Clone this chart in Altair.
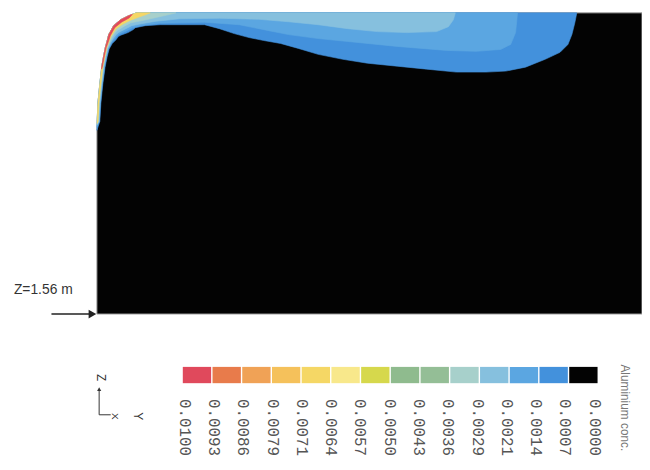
import altair as alt
import pandas as pd

# ---- geometry (x: distance from left wall, z: height above Z=1.56 m level)
DOMAIN_RIGHT = 552
DOMAIN_TOP = 305

# rounded upper-left wall of the domain
wall_x = [0, 0.3, 1, 3, 5, 7, 8.6, 10.5, 12, 14.8, 17, 24, 32, 40]
wall_z = [186, 195, 213, 233, 251, 262, 270, 277, 283, 288, 292, 298, 302, 305]

# contour lines (region with concentration above each level lies between the wall and the line)
c0007_x = [0, 3, 4, 6, 8.3, 10.4, 12.4, 15.6, 19.2, 21.8, 24.2, 31.5, 36.5, 39, 49, 64, 109, 124, 139, 154,
           169, 186, 204, 224, 249, 274, 304, 334, 364, 394, 414, 434, 454, 469, 477, 481, 484, 486]
c0007_z = [186, 195, 213, 232.7, 250, 260.5, 268.3, 274, 277.6, 281, 282.4, 285, 287.8, 290, 292, 293, 293, 289,
           284, 280, 277, 274, 269, 263, 258, 254, 251, 248, 245, 245, 246, 250, 258, 265, 273, 283, 295, 305]

c0014_x = [0, 2.5, 3.5, 5.5, 7.8, 9.9, 11.8, 14.8, 18, 20.8, 23.2, 30.4, 35.8, 45, 64, 109, 144, 174, 194, 224,
           254, 304, 354, 384, 409, 419, 424, 426]
c0014_z = [189, 195, 213, 232.8, 250.1, 260.7, 268.6, 274.5, 278.5, 282, 283.8, 286.9, 289.8, 292.2, 294.5, 295.5,
           293, 287, 283, 279, 276, 271, 267, 266, 268, 273, 285, 305]

c0021_x = [0, 2.1, 3, 5, 7.2, 9.3, 11.2, 14.1, 16.8, 19.7, 22.1, 29.3, 35.2, 45, 60, 84, 124, 164, 194, 224, 254,
           284, 314, 344, 356, 361, 363]
c0021_z = [191, 195, 213, 232.8, 250.3, 261, 268.8, 274.9, 279.4, 283.1, 285.2, 288.9, 292, 294, 296.5, 299, 299.5,
           298.5, 296, 293, 289, 286, 285, 286, 291, 298, 305]

c0029_x = [0.1, 1.6, 2.4, 4.5, 6.6, 8.8, 10.6, 13.2, 15.6, 18.3, 20.6, 27.8, 34.3, 45, 60, 72, 80]
c0029_z = [192, 195, 213, 232.9, 250.5, 261.2, 269.1, 275.4, 280.3, 284.5, 287.2, 291.5, 294.9, 297, 300.3, 303, 305]

c0064_x = [0.2, 1.2, 2, 4, 6.1, 8.3, 10, 12.4, 14.4, 17.3, 19.4, 26.5, 33.5, 42, 50, 54]
c0064_z = [193, 195, 213, 232.9, 250.6, 261.4, 269.4, 275.9, 281.2, 285.6, 288.8, 293.7, 297.3, 300.5, 303.3, 305]

c0093_x = [4.7, 5.6, 7.7, 9.4, 11.8, 13.6, 16.2, 18.3, 25.3, 32.7, 36]
c0093_z = [248, 250.8, 261.7, 269.6, 276.3, 281.8, 286.6, 290.2, 295.8, 299.8, 303.5]

# ---- colour bar
band_colors = ["#e0495c", "#e87b4b", "#f0a256", "#f5c15b", "#f5d765", "#f8e88b", "#d6d84c",
               "#8fbb8e", "#94be96", "#a7d0cb", "#86c0de", "#5ba6e1", "#4391dc", "#030303"]
tick_labels = ["0.0100", "0.0093", "0.0086", "0.0079", "0.0071", "0.0064", "0.0057", "0.0050",
               "0.0043", "0.0036", "0.0029", "0.0021", "0.0014", "0.0007", "0.0000"]

XS = alt.Scale(domain=[-90, 552], nice=False, zero=False)
YS = alt.Scale(domain=[-155, 307], nice=False, zero=False)


def enc(ch):
    return ch.encode(x=alt.X("x:Q", scale=XS, axis=None),
                     y=alt.Y("z:Q", scale=YS, axis=None),
                     order=alt.Order("i:Q"))


def region(cx, cz):
    z0, xe = cz[0], cx[-1]
    pts = [(wx, wz) for wx, wz in zip(wall_x, wall_z) if wz > z0 and wx < xe]
    pts += list(zip(cx[::-1], cz[::-1]))
    return pd.DataFrame({"x": [p[0] for p in pts], "z": [p[1] for p in pts], "i": range(len(pts))})


def poly_layer(df, color, stroke=None, sw=0.6):
    return enc(alt.Chart(df).mark_line(interpolate="linear-closed", fill=color,
                                       stroke=stroke or color, strokeWidth=sw))


dom_pts = [(0, 0)] + list(zip(wall_x, wall_z)) + [(DOMAIN_RIGHT, DOMAIN_TOP), (DOMAIN_RIGHT, 0)]
dom_df = pd.DataFrame({"x": [p[0] for p in dom_pts], "z": [p[1] for p in dom_pts], "i": range(len(dom_pts))})

layers = [
    poly_layer(dom_df, band_colors[13], stroke="#a8a8a8", sw=1),
    poly_layer(region(c0007_x, c0007_z), band_colors[12]),
    poly_layer(region(c0014_x, c0014_z), band_colors[11]),
    poly_layer(region(c0021_x, c0021_z), band_colors[10]),
    poly_layer(region(c0029_x, c0029_z), band_colors[9]),
    poly_layer(region(c0064_x, c0064_z), band_colors[4]),
    poly_layer(region(c0093_x, c0093_z), band_colors[0]),
]

# colour bar swatches
sw_df = pd.DataFrame({
    "x": [87 + 30.1 * k for k in range(len(band_colors))],
    "x2": [87 + 30.1 * k + 28.7 for k in range(len(band_colors))],
    "z": [-53.5] * len(band_colors),
    "z2": [-70] * len(band_colors),
    "c": band_colors,
})
swatches = alt.Chart(sw_df).mark_rect().encode(
    x=alt.X("x:Q", scale=XS, axis=None), x2="x2:Q",
    y=alt.Y("z:Q", scale=YS, axis=None), y2="z2:Q",
    fill=alt.Fill("c:N", scale=None))

lab_df = pd.DataFrame({"x": [89 + 29.64 * k for k in range(len(tick_labels))],
                       "z": [-86] * len(tick_labels), "t": tick_labels})
labels = alt.Chart(lab_df).mark_text(angle=90, align="left", baseline="middle", font="Liberation Mono",
                                     fontSize=16, color="#555").encode(
    x=alt.X("x:Q", scale=XS, axis=None), y=alt.Y("z:Q", scale=YS, axis=None), text="t:N")

# annotation texts
txt_df = pd.DataFrame({"x": [535], "z": [-51], "t": ["Aluminium conc."]})
bar_title = alt.Chart(txt_df).mark_text(angle=90, align="left", baseline="middle", font="Liberation Sans",
                                        fontSize=12, color="#777").encode(
    x=alt.X("x:Q", scale=XS, axis=None), y=alt.Y("z:Q", scale=YS, axis=None), text="t:N")

zl_df = pd.DataFrame({"x": [-84], "z": [17], "t": ["Z=1.56 m"]})
z_label = alt.Chart(zl_df).mark_text(align="left", baseline="bottom", font="Liberation Sans",
                                     fontSize=14, color="#333").encode(
    x=alt.X("x:Q", scale=XS, axis=None), y=alt.Y("z:Q", scale=YS, axis=None), text="t:N")

arr_df = pd.DataFrame({"x": [-46], "x2": [-6], "z": [0]})
arrow_line = alt.Chart(arr_df).mark_rule(color="#222", strokeWidth=1.5).encode(
    x=alt.X("x:Q", scale=XS, axis=None), x2="x2:Q", y=alt.Y("z:Q", scale=YS, axis=None))
head_df = pd.DataFrame({"x": [-4.5], "z": [0]})
arrow_head = alt.Chart(head_df).mark_point(shape="triangle-right", filled=True, size=80, color="#222",
                                           opacity=1).encode(
    x=alt.X("x:Q", scale=XS, axis=None), y=alt.Y("z:Q", scale=YS, axis=None))

# coordinate triad
tri_v = pd.DataFrame({"x": [2.3], "z": [-102], "z2": [-76]})
triad_v = alt.Chart(tri_v).mark_rule(color="#333", strokeWidth=1).encode(
    x=alt.X("x:Q", scale=XS, axis=None), y=alt.Y("z:Q", scale=YS, axis=None), y2="z2:Q")
tri_h = pd.DataFrame({"x": [2.3], "x2": [14], "z": [-102]})
triad_h = alt.Chart(tri_h).mark_rule(color="#333", strokeWidth=1).encode(
    x=alt.X("x:Q", scale=XS, axis=None), x2="x2:Q", y=alt.Y("z:Q", scale=YS, axis=None))
tri_head = pd.DataFrame({"x": [2.3], "z": [-76]})
triad_head = alt.Chart(tri_head).mark_point(shape="triangle-up", filled=True, size=18, color="#333",
                                            opacity=1).encode(
    x=alt.X("x:Q", scale=XS, axis=None), y=alt.Y("z:Q", scale=YS, axis=None))
ax_df = pd.DataFrame({"x": [4, 18, 42], "z": [-64.5, -103.5, -103.5], "t": ["Z", "X", "Y"],
                      "s": [12, 10, 12]})
triad_txt = alt.Chart(ax_df).mark_text(angle=90, align="center", baseline="middle", font="Liberation Sans",
                                       color="#333").encode(
    x=alt.X("x:Q", scale=XS, axis=None), y=alt.Y("z:Q", scale=YS, axis=None), text="t:N",
    size=alt.Size("s:Q", scale=None))

chart = alt.layer(*layers, swatches, labels, bar_title, z_label, arrow_line, arrow_head,
                  triad_v, triad_h, triad_head, triad_txt).properties(
    width=642, height=462, autosize=alt.AutoSizeParams(type="none"), padding=0,
    background="white").configure_view(stroke=None)

chart.save("out.html", embed_options={"renderer": "svg", "actions": False})
